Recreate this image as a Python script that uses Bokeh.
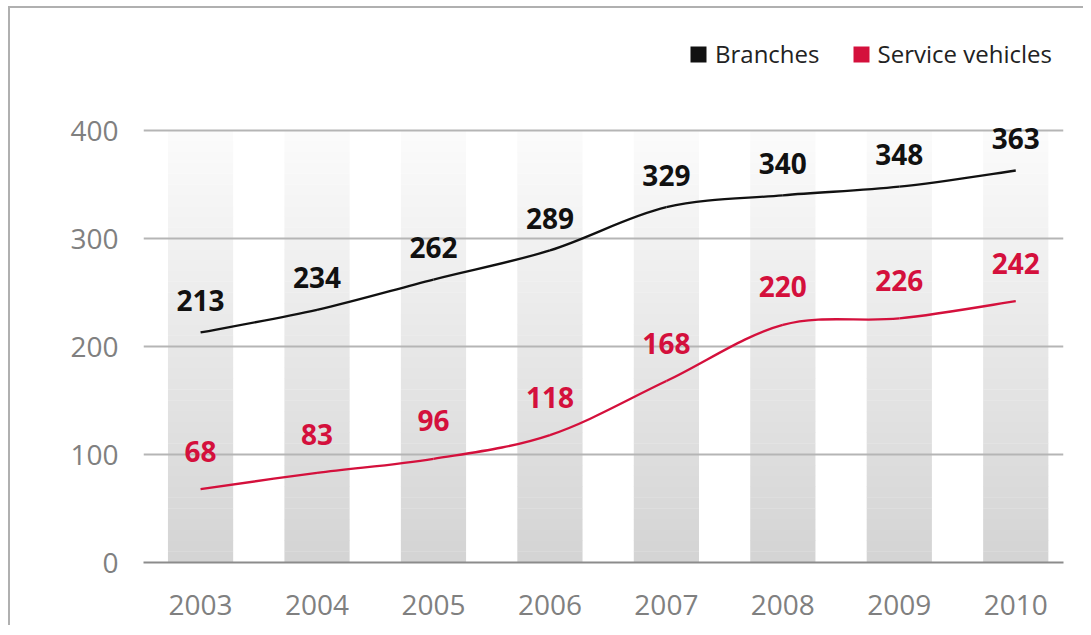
import numpy as np
from bokeh.plotting import figure
from bokeh.models import Range1d, FixedTicker, Legend, LegendItem, ColumnDataSource
from bokeh.embed import file_html
from bokeh.resources import INLINE
from bokeh.core.properties import value

# ---- data ----
years = [2003, 2004, 2005, 2006, 2007, 2008, 2009, 2010]
branches = [213, 234, 262, 289, 329, 340, 348, 363]
vehicles = [68, 83, 96, 118, 168, 220, 226, 242]
y_ticks = [0, 100, 200, 300, 400]
series_names = ["Branches", "Service vehicles"]
column_top = 400

# ---- styles ----
FONT = "Open Sans"
BLACK = "#111111"
RED = "#d4103c"
GRID = "#b5b5b5"
AXIS = "#8c8c8c"

p = figure(width=1075, height=619, output_backend="svg", toolbar_location=None,
           x_range=Range1d(2002.51, 2010.41), y_range=Range1d(0, 513),
           min_border_left=133, min_border_right=22, min_border_top=0,
           min_border_bottom=65)
p.outline_line_color = None
p.background_fill_color = "white"
p.border_fill_color = "white"
p.margin = (6, 0, 0, 8)
p.styles = {"border-top": "2px solid #b0b0b0", "border-left": "2px solid #b0b0b0"}

# gradient background columns (stacked slices, white at top -> grey at bottom)
n_seg = 40
edges = np.linspace(0, column_top, n_seg + 1)
lo = np.array([0xd3, 0xd3, 0xd3], dtype=float)
hi = np.array([0xfc, 0xfc, 0xfc], dtype=float)
bx, bb, bt, bc = [], [], [], []
for i in range(n_seg):
    t = (i + 0.5) / n_seg
    c = lo + (hi - lo) * t
    col = "#%02x%02x%02x" % tuple(int(round(v)) for v in c)
    for yr in years:
        bx.append(yr)
        bb.append(edges[i])
        bt.append(edges[i + 1] + 0.3)
        bc.append(col)
p.vbar(x="x", bottom="b", top="t", width=0.56, fill_color="c", line_color=None,
       source=ColumnDataSource(dict(x=bx, b=bb, t=bt, c=bc)), level="image")


def smooth(xs, ys):
    xs = np.asarray(xs, float)
    ys = np.asarray(ys, float)
    n = len(xs)
    d = dict(x0=[], y0=[], x1=[], y1=[], cx0=[], cy0=[], cx1=[], cy1=[])
    for i in range(n - 1):
        im = max(i - 1, 0)
        ip = min(i + 2, n - 1)
        d["x0"].append(xs[i]); d["y0"].append(ys[i])
        d["x1"].append(xs[i + 1]); d["y1"].append(ys[i + 1])
        d["cx0"].append(xs[i] + (xs[i + 1] - xs[im]) / 6)
        d["cy0"].append(ys[i] + (ys[i + 1] - ys[im]) / 6)
        d["cx1"].append(xs[i + 1] - (xs[ip] - xs[i]) / 6)
        d["cy1"].append(ys[i + 1] - (ys[ip] - ys[i]) / 6)
    return ColumnDataSource(d)


for vals, color, off in [(branches, BLACK, -32), (vehicles, RED, -38)]:
    p.bezier(x0="x0", y0="y0", x1="x1", y1="y1", cx0="cx0", cy0="cy0",
             cx1="cx1", cy1="cy1", source=smooth(years, vals),
             line_color=color, line_width=2.3)
    p.text(x=years, y=vals, text=[str(v) for v in vals], text_font=value(FONT),
           text_font_style="bold", text_font_size="28px", text_align="center",
           text_baseline="middle", y_offset=off, text_color=color)

# axes
p.xaxis.ticker = FixedTicker(ticks=years)
p.xaxis.major_label_overrides = {y: str(y) for y in years}
p.xaxis.axis_line_color = AXIS
p.xaxis.axis_line_width = 2
p.xaxis.major_tick_line_color = None
p.xaxis.minor_tick_line_color = None
p.xaxis.major_tick_out = 0
p.xaxis.major_label_standoff = 32
p.yaxis.ticker = FixedTicker(ticks=y_ticks)
p.yaxis.axis_line_color = None
p.yaxis.major_tick_line_color = None
p.yaxis.minor_tick_line_color = None
p.yaxis.major_tick_out = 0
p.yaxis.major_label_standoff = 25
for ax in (p.xaxis, p.yaxis):
    ax.major_label_text_font = FONT
    ax.major_label_text_font_size = "28px"
    ax.major_label_text_color = "#808080"

p.xgrid.grid_line_color = None
p.ygrid.ticker = FixedTicker(ticks=y_ticks)
p.ygrid.grid_line_color = GRID
p.ygrid.grid_line_width = 2

# legend (single NaN point so the legend glyph is drawn, nothing in the plot)
r1 = p.vbar(x=[np.nan], top=[np.nan], width=0.1, fill_color=BLACK, line_color=None)
r2 = p.vbar(x=[np.nan], top=[np.nan], width=0.1, fill_color=RED, line_color=None)
legend = Legend(items=[LegendItem(label=series_names[0], renderers=[r1]),
                       LegendItem(label=series_names[1], renderers=[r2])],
                orientation="horizontal", location=(545, 492),
                glyph_width=20, glyph_height=20, label_standoff=7, spacing=31,
                padding=0, margin=0, border_line_color=None,
                background_fill_alpha=0, label_text_font=FONT,
                label_text_font_size="24px", label_text_color="#222222")
p.add_layout(legend, "center")

open("out.html", "w").write(file_html(p, INLINE))
